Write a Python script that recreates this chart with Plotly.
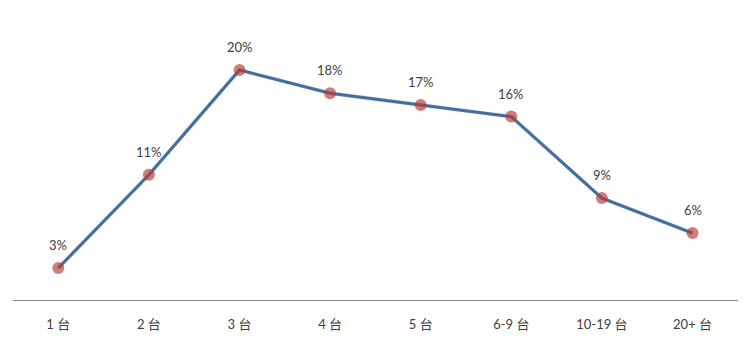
import plotly.graph_objects as go

categories = ["1 台", "2 台", "3 台", "4 台", "5 台", "6-9 台", "10-19 台", "20+ 台"]
values = [3, 11, 20, 18, 17, 16, 9, 6]
labels = [f"{v}%" for v in values]

FONT = "Lato, 'Noto Sans CJK SC', sans-serif"
XR = [-0.5, len(categories) - 0.5]
YR = [0.23, 24.98]

fig = go.Figure()

# soft shadow of the line (same data on offset overlay axes)
fig.add_trace(go.Scatter(
    x=categories, y=values, mode="lines",
    line=dict(color="rgba(0,0,0,0.14)", width=4),
    xaxis="x2", yaxis="y2", hoverinfo="skip", showlegend=False,
))

fig.add_trace(go.Scatter(
    x=categories, y=values, mode="lines",
    line=dict(color="#4F81BD", width=3),
    showlegend=False, hoverinfo="skip",
))
fig.add_trace(go.Scatter(
    x=categories, y=values, mode="markers",
    marker=dict(size=12, color="rgba(192,80,77,0.75)", line=dict(width=0)),
    showlegend=False,
))

for c, v, t in zip(categories, values, labels):
    fig.add_annotation(x=c, y=v, text=t, showarrow=False, yanchor="bottom",
                       yshift=13, font=dict(family=FONT, size=13, color="#404040"))

fig.update_layout(
    width=750, height=343,
    margin=dict(l=13, r=10, t=12, b=41),
    paper_bgcolor="white", plot_bgcolor="white",
    font=dict(family=FONT, size=13, color="#404040"),
    xaxis=dict(domain=[0, 0.997], range=XR, showgrid=False, zeroline=False,
               showline=True, linecolor="#888888", linewidth=1,
               ticks="", tickfont=dict(family=FONT, size=13, color="#404040"),
               ticklabelstandoff=12),
    yaxis=dict(domain=[0.006, 1], range=YR, visible=False, showgrid=False),
    xaxis2=dict(domain=[0.003, 1], range=XR, overlaying="x", anchor="y2", visible=False),
    yaxis2=dict(domain=[0, 0.994], range=YR, overlaying="y", anchor="x2", visible=False),
)

fig.write_html("out.html")
